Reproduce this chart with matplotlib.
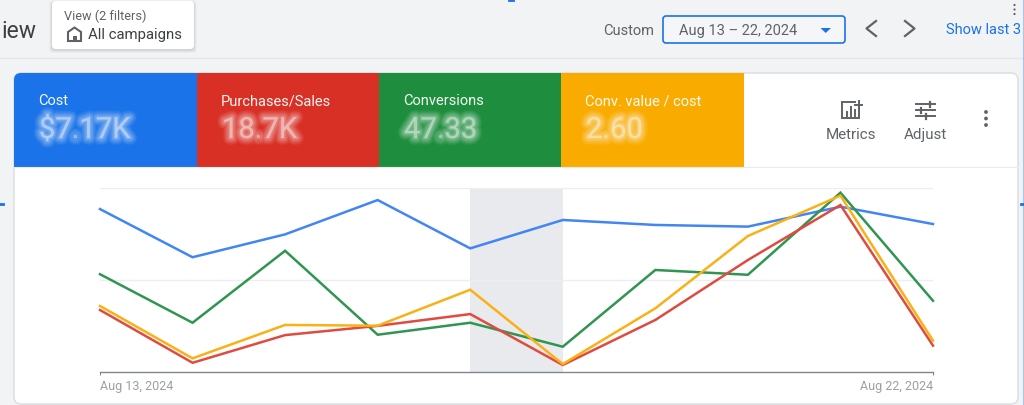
"""Google Ads overview card: four metric tiles above a normalised line chart."""

import matplotlib
matplotlib.use("Agg")
import matplotlib.pyplot as plt
import matplotlib.patheffects as pe
from matplotlib.patches import FancyBboxPatch, Rectangle, Polygon, Circle

plt.rcParams["font.family"] = ["Roboto", "DejaVu Sans"]

# --- data --------------------------------------------------------------------
dates = ["Aug 13", "Aug 14", "Aug 15", "Aug 16", "Aug 17",
         "Aug 18", "Aug 19", "Aug 20", "Aug 21", "Aug 22"]
cost = [88.3, 62.2, 74.6, 93.2, 67.0, 82.4, 79.7, 78.8, 89.6, 80.2]
purchases = [33.6, 5.0, 20.0, 25.0, 31.4, 3.8, 28.2, 60.7, 90.5, 14.3]
conversions = [53.0, 26.7, 65.7, 20.2, 26.7, 13.7, 55.3, 52.7, 97.2, 38.6]
conv_value = [35.8, 7.4, 25.5, 25.1, 44.6, 4.3, 34.5, 73.7, 95.6, 17.0]
tile_names = ["Cost", "Purchases/Sales", "Conversions", "Conv. value / cost"]
tile_values = ["$7.17K", "18.7K", "47.33", "2.60"]
tile_colors = ["#1a73e8", "#d93025", "#1e8e3e", "#f9ab00"]

W, H = 1024, 406
fig = plt.figure(figsize=(W / 100, H / 100), dpi=100, facecolor="#f1f3f4")

# full-figure axes in pixel units for the page chrome (1px offset lines up with the reference)
bg = fig.add_axes([0, 0, 1, 1])
bg.set_xlim(0, W)
bg.set_ylim(H - 1, -1)
bg.axis("off")

DARK = "#3c4043"
GREY = "#5f6368"
BLUE = "#1a73e8"

# --- header ------------------------------------------------------------------
bg.plot([0, W], [58, 58], color="#e3e5e8", lw=1)
bg.text(1, 30, "iew", fontsize=16.5, color=DARK, va="center", ha="left")

for grow, alpha in [(3, 0.025), (2, 0.035), (1, 0.06)]:
    bg.add_patch(FancyBboxPatch((52 - grow, 2 - grow + 1), 142 + 2 * grow, 47 + 2 * grow,
                                boxstyle="round,pad=0,rounding_size=4",
                                fc="black", ec="none", alpha=alpha))
bg.add_patch(FancyBboxPatch((52, 1), 142, 48, boxstyle="round,pad=0,rounding_size=4",
                            fc="white", ec="none"))
bg.text(64, 15.5, "View (2 filters)", fontsize=9.2, color=GREY, va="center")
bg.text(88.5, 33.5, "All campaigns", fontsize=10.7, color=DARK, va="center")
# home icon
bg.add_patch(Polygon([(68, 41), (68, 32), (74.5, 27.5), (81, 32), (81, 41)], closed=True,
                     fc="none", ec=GREY, lw=1.5))
bg.add_patch(Rectangle((72.5, 36), 4, 5, fc=GREY, ec="none"))

bg.text(603, 30, "Custom", fontsize=10.5, color=GREY, va="center")
bg.add_patch(FancyBboxPatch((663, 16), 182, 27, boxstyle="round,pad=0,rounding_size=3",
                            fc="#f4f6f8", ec=BLUE, lw=1.2))
bg.text(679, 30, "Aug 13 – 22, 2024", fontsize=10.5, color=GREY, va="center")
bg.add_patch(Polygon([(820.5, 28), (831, 28), (825.7, 33)], closed=True, fc=BLUE, ec="none"))
bg.plot([876, 866.5, 876], [21, 28.5, 36], color=GREY, lw=1.6)
bg.plot([905, 914.5, 905], [21, 28.5, 36], color=GREY, lw=1.6)
bg.text(945.5, 29.5, "Show last 3", fontsize=10.5, color=BLUE, va="center")
for y in (5, 9.5, 14):
    bg.add_patch(Circle((1014.5, y), 1.1, fc=GREY, ec="none"))

# selection handles of the screenshot
bg.plot([1022.5, 1022.5], [-1, H], color="#a9c6f2", lw=0.8)
bg.plot([509, 513], [0, 0], color=BLUE, lw=2)
bg.plot([0, 3], [204, 204], color=BLUE, lw=2)
bg.plot([1021, 1024], [204, 204], color=BLUE, lw=2)

# --- card and tiles ----------------------------------------------------------
bg.add_patch(FancyBboxPatch((14, 73), 1004, 331, boxstyle="round,pad=0,rounding_size=7",
                            fc="white", ec="#dadce0", lw=1))
card_clip = FancyBboxPatch((14, 73), 1004, 331, boxstyle="round,pad=0,rounding_size=7",
                           transform=bg.transData, fc="none", ec="none")
bg.add_patch(card_clip)
edges = [14, 197, 379, 561, 744]
# stacked wide translucent strokes, no crisp fill: the redacted figures look blurred
blur = [pe.Stroke(linewidth=w, foreground="white", alpha=a)
        for w, a in [(10, 0.05), (8.5, 0.06), (7, 0.07), (5.5, 0.08),
                     (4, 0.09), (2.5, 0.1), (1, 0.1)]]
for i, name in enumerate(tile_names):
    r = Rectangle((edges[i], 73), edges[i + 1] - edges[i], 94, fc=tile_colors[i], ec="none")
    bg.add_patch(r)
    r.set_clip_path(card_clip)
    x = edges[i] + 24
    bg.text(x, 100, name, fontsize=10.5, color="white", va="center", alpha=0.95)
    t = bg.text(x + 1, 130, tile_values[i], fontsize=21, color="white", va="center")
    t.set_path_effects(blur)
bg.plot([14, 1018], [167, 167], color="#e8eaed", lw=0.8)

# metrics / adjust buttons
bg.add_patch(Rectangle((842, 102), 17, 16, fc="none", ec=GREY, lw=1.4))
bg.plot([846.5, 846.5], [112, 116], color=GREY, lw=1.4)
bg.plot([850.5, 850.5], [107, 116], color=GREY, lw=1.4)
bg.plot([854.5, 854.5], [110, 116], color=GREY, lw=1.4)
bg.add_patch(Rectangle((856, 100), 6, 6, fc="white", ec="none"))
bg.plot([855, 862], [104.5, 104.5], color=GREY, lw=1.4)
bg.plot([858.5, 858.5], [101, 108], color=GREY, lw=1.4)
bg.text(851, 134.5, "Metrics", fontsize=10.9, color=GREY, va="center", ha="center")
for y, gap_at in [(104, 930), (110, 921), (116, 926)]:
    bg.plot([916, 935], [y, y], color=GREY, lw=1.4)
    bg.plot([gap_at, gap_at], [y - 2.5, y + 2.5], color=GREY, lw=1.6)
bg.text(925, 134.5, "Adjust", fontsize=10.9, color=GREY, va="center", ha="center")
for y in (112, 118.5, 125):
    bg.add_patch(Circle((986, y), 1.9, fc=GREY, ec="none"))

# --- chart -------------------------------------------------------------------
left, right, top, bottom = 100, 933, 188.5, 373
ax = fig.add_axes([left / W, 1 - bottom / H, (right - left) / W, (bottom - top) / H])
ax.patch.set_alpha(0)
xs = list(range(len(dates)))
ax.set_xlim(0, len(dates) - 1)
ax.set_ylim(0, 100)

ax.axvspan(4, 5, color="#e8eaed", lw=0, zorder=1)
ax.set_yticks([50, 100])
ax.grid(axis="y", color="#eceef1", lw=1, zorder=1)
ax.tick_params(axis="y", length=0, labelleft=False)

line_kw = dict(lw=1.8, solid_joinstyle="miter", clip_on=False, zorder=3)
ax.plot(xs, cost, color="#4285f4", **line_kw)
ax.plot(xs, conversions, color="#2f9550", **line_kw)
ax.plot(xs, purchases, color="#e04b3f", **line_kw)
ax.plot(xs, conv_value, color="#fbb016", **line_kw)

for s in ("top", "left", "right"):
    ax.spines[s].set_visible(False)
ax.spines["bottom"].set_color("#80868b")
ax.spines["bottom"].set_linewidth(1)

ax.set_xticks([0, len(dates) - 1])
ax.set_xticklabels([dates[0] + ", 2024", dates[-1] + ", 2024"], fontsize=9, color="#9aa0a6")
ax.tick_params(axis="x", length=2, width=0.8, color="#80868b", pad=3)
labels = ax.get_xticklabels()
labels[0].set_ha("left")
labels[1].set_ha("right")

fig.savefig("out.png", dpi=100, facecolor=fig.get_facecolor())
